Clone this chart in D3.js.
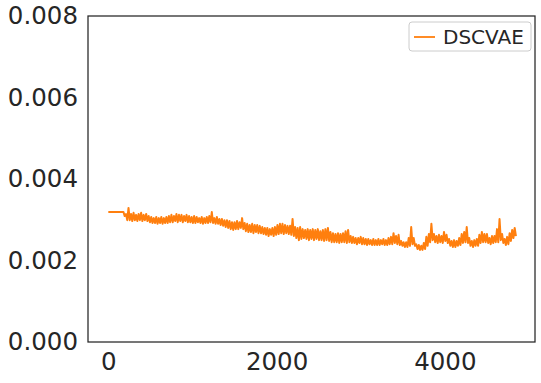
<!DOCTYPE html>
<html>
<head>
<meta charset="utf-8">
<script src="https://d3js.org/d3.v7.min.js"></script>
<style>
  body { margin: 0; background: #fff; }
  svg { display: block; font-family: "DejaVu Sans", sans-serif; }
</style>
</head>
<body>
<svg id="chart" width="541" height="383"></svg>
<script>
// loss curve: flat warm-up, then the noisy band read as upper / lower
// envelope per 30-iteration window
const seriesName = "DSCVAE";
const warmup = [[0, 0.00319], [150, 0.00319]];
const sampleStart = 180;
const sampleStep = 30;
const lossHigh = [
  0.00319, 0.00314, 0.00329, 0.00314, 0.00317, 0.00312, 0.00314, 0.00317, 0.00312, 0.00314,
  0.00309, 0.00307, 0.00304, 0.00307, 0.00304, 0.00307, 0.00304, 0.00307, 0.00309, 0.00312,
  0.00309, 0.00314, 0.00312, 0.00312, 0.00309, 0.00312, 0.00309, 0.00307, 0.00309, 0.00307,
  0.00304, 0.00307, 0.00304, 0.00307, 0.00309, 0.00319, 0.00304, 0.00307, 0.00302, 0.00302,
  0.00299, 0.00299, 0.00297, 0.00294, 0.00294, 0.00297, 0.00294, 0.00304, 0.00292, 0.00290,
  0.00287, 0.00290, 0.00287, 0.00287, 0.00285, 0.00282, 0.00280, 0.00280, 0.00277, 0.00280,
  0.00282, 0.00287, 0.00290, 0.00290, 0.00287, 0.00285, 0.00285, 0.00302, 0.00282, 0.00280,
  0.00282, 0.00277, 0.00275, 0.00277, 0.00275, 0.00277, 0.00275, 0.00277, 0.00272, 0.00275,
  0.00277, 0.00280, 0.00270, 0.00267, 0.00265, 0.00267, 0.00265, 0.00267, 0.00272, 0.00275,
  0.00260, 0.00258, 0.00255, 0.00255, 0.00258, 0.00255, 0.00253, 0.00253, 0.00250, 0.00253,
  0.00250, 0.00253, 0.00250, 0.00253, 0.00250, 0.00255, 0.00258, 0.00267, 0.00260, 0.00263,
  0.00248, 0.00245, 0.00245, 0.00255, 0.00282, 0.00255, 0.00240, 0.00238, 0.00236, 0.00243,
  0.00258, 0.00265, 0.00290, 0.00265, 0.00260, 0.00263, 0.00260, 0.00270, 0.00263, 0.00253,
  0.00248, 0.00250, 0.00248, 0.00255, 0.00265, 0.00270, 0.00282, 0.00255, 0.00248, 0.00250,
  0.00253, 0.00263, 0.00270, 0.00265, 0.00265, 0.00255, 0.00260, 0.00260, 0.00277, 0.00302,
  0.00265, 0.00253, 0.00258, 0.00267, 0.00275, 0.00280
];
const lossLow = [
  0.00309, 0.00299, 0.00299, 0.00297, 0.00299, 0.00297, 0.00299, 0.00297, 0.00299, 0.00297,
  0.00294, 0.00292, 0.00292, 0.00290, 0.00292, 0.00290, 0.00292, 0.00292, 0.00294, 0.00294,
  0.00297, 0.00294, 0.00297, 0.00294, 0.00297, 0.00294, 0.00294, 0.00292, 0.00292, 0.00294,
  0.00292, 0.00290, 0.00292, 0.00292, 0.00294, 0.00292, 0.00290, 0.00290, 0.00287, 0.00285,
  0.00282, 0.00280, 0.00277, 0.00275, 0.00277, 0.00277, 0.00280, 0.00277, 0.00272, 0.00270,
  0.00270, 0.00267, 0.00270, 0.00267, 0.00267, 0.00265, 0.00263, 0.00260, 0.00263, 0.00260,
  0.00263, 0.00265, 0.00267, 0.00265, 0.00267, 0.00265, 0.00263, 0.00260, 0.00255, 0.00250,
  0.00253, 0.00255, 0.00253, 0.00250, 0.00253, 0.00250, 0.00253, 0.00250, 0.00250, 0.00248,
  0.00250, 0.00248, 0.00245, 0.00245, 0.00245, 0.00243, 0.00245, 0.00245, 0.00243, 0.00245,
  0.00243, 0.00243, 0.00240, 0.00243, 0.00240, 0.00240, 0.00238, 0.00240, 0.00238, 0.00238,
  0.00238, 0.00238, 0.00240, 0.00238, 0.00238, 0.00240, 0.00240, 0.00243, 0.00240, 0.00238,
  0.00236, 0.00233, 0.00233, 0.00236, 0.00240, 0.00236, 0.00228, 0.00226, 0.00226, 0.00228,
  0.00236, 0.00245, 0.00250, 0.00245, 0.00243, 0.00245, 0.00243, 0.00248, 0.00243, 0.00236,
  0.00233, 0.00233, 0.00236, 0.00238, 0.00243, 0.00245, 0.00243, 0.00236, 0.00233, 0.00236,
  0.00236, 0.00243, 0.00245, 0.00245, 0.00243, 0.00240, 0.00243, 0.00245, 0.00245, 0.00250,
  0.00243, 0.00238, 0.00240, 0.00248, 0.00255, 0.00260
];
const xTicks = [0, 2000, 4000];
const yTicks = [0, 0.002, 0.004, 0.006, 0.008];

// the curve swings between the window's high and low
const points = warmup.slice();
lossHigh.forEach((v, i) => {
  const it = sampleStart + i * sampleStep;
  points.push([it, v], [it + sampleStep / 2, lossLow[i]]);
});

const svg = d3.select("#chart");
const margin = { left: 88, right: 6, top: 16, bottom: 41 };
const W = 541, H = 383;
const ink = "#262626";

const xMax = sampleStart + (lossHigh.length - 1) * sampleStep;
const pad = xMax * 0.05;
const x = d3.scaleLinear()
  .domain([-pad, xMax + pad])
  .range([margin.left, W - margin.right]);
const y = d3.scaleLinear()
  .domain([0, 0.008])
  .range([H - margin.bottom, margin.top]);

// axes (no tick marks, seaborn "white" look)
const xAxis = svg.append("g")
  .attr("transform", `translate(0,${H - margin.bottom})`)
  .call(d3.axisBottom(x).tickValues(xTicks).tickSize(0).tickPadding(11).tickFormat(d3.format("d")));
const yAxis = svg.append("g")
  .attr("transform", `translate(${margin.left},0)`)
  .call(d3.axisLeft(y).tickValues(yTicks).tickSize(0).tickPadding(10).tickFormat(d3.format(".3f")));
[xAxis, yAxis].forEach(a => {
  a.select(".domain").remove();
  a.selectAll("text").attr("fill", ink).style("font-size", "24.5px").style("font-family", "DejaVu Sans");
});

// the curve
svg.append("path")
  .datum(points)
  .attr("d", d3.line().x(d => x(d[0])).y(d => y(d[1])))
  .attr("fill", "none")
  .attr("stroke", "#ff7f0e")
  .attr("stroke-width", 2)
  .attr("stroke-linejoin", "round");

// frame
svg.append("rect")
  .attr("x", margin.left)
  .attr("y", margin.top)
  .attr("width", W - margin.right - margin.left)
  .attr("height", H - margin.bottom - margin.top)
  .attr("fill", "none")
  .attr("stroke", ink)
  .attr("stroke-width", 1.25);

// legend
const lg = svg.append("g").attr("transform", "translate(409,22)");
lg.append("rect")
  .attr("width", 122).attr("height", 29).attr("rx", 3)
  .attr("fill", "#fff").attr("fill-opacity", 0.8)
  .attr("stroke", "#cccccc");
lg.append("line")
  .attr("x1", 5).attr("x2", 26).attr("y1", 15).attr("y2", 15)
  .attr("stroke", "#ff7f0e").attr("stroke-width", 1.8);
lg.append("text")
  .attr("x", 34).attr("y", 22)
  .attr("fill", ink)
  .style("font-size", "20px")
  .text(seriesName);
</script>
</body>
</html>
